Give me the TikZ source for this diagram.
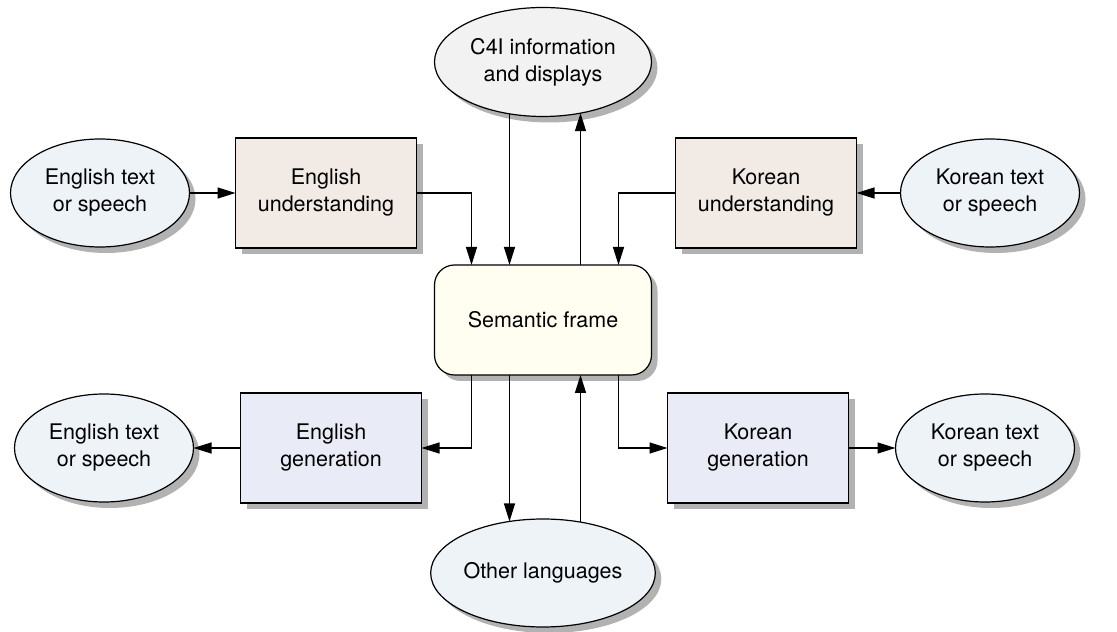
\documentclass[tikz,border=0pt]{standalone}
\usepackage{fontspec}
\setmainfont{TeX Gyre Heros}
\usepackage{xcolor}
\usetikzlibrary{shapes.geometric, arrows.meta, shadows}

\definecolor{ovalblue}{HTML}{EEF3F8}
\definecolor{ovalgray}{HTML}{F2F2F2}
\definecolor{undfill}{HTML}{F2EAE5}
\definecolor{genfill}{HTML}{E9ECF6}
\definecolor{framefill}{HTML}{FFFEF0}

\tikzset{
	shadeoff/.style = {drop shadow = {shadow xshift = 6pt, shadow yshift = -6pt, fill = black!30, opacity = 1}},
	oval/.style = {ellipse, draw, line width = 1.2pt, fill = ovalblue, shadeoff, minimum width = 179pt, minimum height = 108pt, inner sep = 0pt, outer sep = 0pt, align = center},
	stage/.style = {rectangle, draw, line width = 1.2pt, shadeoff, minimum width = 181pt, minimum height = 110pt, inner sep = 0pt, outer sep = 0pt, align = center},
	flow/.style = {line width = 1.2pt, -{Triangle[length = 18pt, width = 11pt]}},
}

\begin{document}
\begin{tikzpicture}[x = 1pt, y = 1pt, font = \fontsize{21.5}{27}\selectfont]
	\useasboundingbox (0,0) rectangle (1117,632);
	
	\node [oval, fill = ovalgray, minimum width = 217pt, minimum height = 109pt] (c4i) at (543,570) {C4I information\\and displays};
	\node [oval] (engin) at (100,439) {English text\\or speech};
	\node [stage, fill = undfill] (engund) at (326,439) {English\\understanding};
	\node [stage, fill = undfill] (korund) at (766,439) {Korean\\understanding};
	\node [oval] (korin) at (990,439) {Korean text\\or speech};
	
	\node [stage, fill = framefill, rounded corners = 20pt, minimum width = 217pt] (sem) at (543,312) {Semantic frame};
	
	\node [oval] (engout) at (104,184) {English text\\or speech};
	\node [stage, fill = genfill] (enggen) at (331,184) {English\\generation};
	\node [stage, fill = genfill] (korgen) at (758,184) {Korean\\generation};
	\node [oval] (korout) at (985,184) {Korean text\\or speech};
	\node [oval, minimum width = 217pt] (other) at (543,59) {Other languages};
	
	\coordinate (t1) at ([xshift = -71.5pt]sem.north);
	\coordinate (t2) at ([xshift = -33.5pt]sem.north);
	\coordinate (t3) at ([xshift = 37.5pt]sem.north);
	\coordinate (t4) at ([xshift = 75.5pt]sem.north);
	\coordinate (b1) at ([xshift = -71.5pt]sem.south);
	\coordinate (b2) at ([xshift = -33.5pt]sem.south);
	\coordinate (b3) at ([xshift = 37.5pt]sem.south);
	\coordinate (b4) at ([xshift = 75.5pt]sem.south);
	
	\draw [flow] (engin) -- (engund);
	\draw [flow] (engund.east) -| (t1);
	\draw [flow] (t2 |- c4i.237) -- (t2);
	\draw [flow] (t3) -- (t3 |- c4i.306);
	\draw [flow] (korund.west) -| (t4);
	\draw [flow] (korin) -- (korund);
	
	\draw [flow] (b1) |- (enggen.east);
	\draw [flow] (b2) -- (b2 |- other.123);
	\draw [flow] (b3 |- other.54) -- (b3);
	\draw [flow] (b4) |- (korgen.west);
	\draw [flow] (enggen) -- (engout);
	\draw [flow] (korgen) -- (korout);
\end{tikzpicture}
\end{document}
